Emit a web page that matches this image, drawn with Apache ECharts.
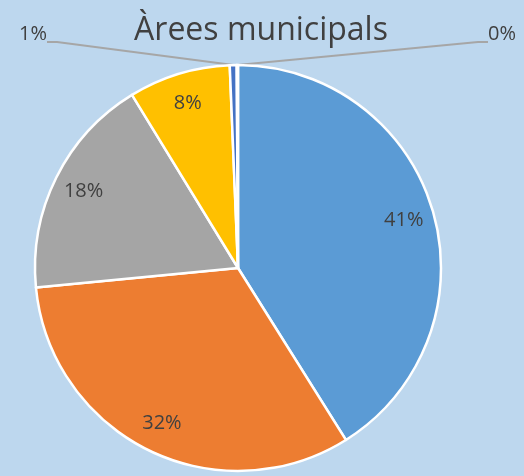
<!DOCTYPE html>
<html>
<head>
<meta charset="utf-8">
<script src="https://cdn.jsdelivr.net/npm/echarts@6/dist/echarts.min.js"></script>
<style>
  html, body { margin: 0; padding: 0; background: #BDD7EE; }
  #chart { width: 524px; height: 476px; }
</style>
</head>
<body>
<div id="chart"></div>
<script>
// slices clockwise from 12 o'clock
const categories = ["A", "B", "C", "D", "E", "F"];
const values = [41.1, 32.4, 17.8, 8.1, 0.55, 0.1];
const colors = ["#5B9BD5", "#ED7D31", "#A5A5A5", "#FFC000", "#4472C4", "#70AD47"];

const chart = echarts.init(document.getElementById("chart"));

const pieData = categories.map((c, i) => ({
  name: c,
  value: values[i],
  itemStyle: { color: colors[i] },
  labelLine: { show: i >= 4 },
}));

const pct = (p) => Math.round(p.percent) + "%";

chart.setOption({
  backgroundColor: "#BDD7EE",
  title: {
    text: "Àrees municipals",
    left: 256,
    top: 10,
    textAlign: "center",
    textStyle: {
      fontFamily: "Open Sans",
      fontSize: 32,
      fontWeight: "normal",
      color: "#404040",
    },
  },
  series: [
    {
      type: "pie",
      center: [238, 268],
      radius: 203,
      startAngle: 90,
      clockwise: true,
      avoidLabelOverlap: false,
      itemStyle: { borderColor: "#fff", borderWidth: 2.5 },
      label: {
        show: true,
        position: "outside",
        // blank second line so the leader line meets the label below the text
        formatter: (p) => (p.dataIndex >= 4 ? pct(p) + "\n " : ""),
        fontFamily: "Open Sans",
        fontSize: 20,
        lineHeight: 15,
        color: "#404040",
      },
      labelLine: {
        show: true,
        length: 10,
        length2: 10,
        lineStyle: { color: "#A6A6A6", width: 2 },
      },
      labelLayout: function (params) {
        if (params.dataIndex === 4) {
          return { x: 47, y: 42, align: "right", verticalAlign: "middle" };
        }
        if (params.dataIndex === 5) {
          return { x: 488, y: 42, align: "left", verticalAlign: "middle" };
        }
        return {};
      },
      emphasis: { disabled: true },
      data: pieData,
    },
    {
      // transparent ring that only carries the inside labels
      type: "pie",
      center: [238, 268],
      radius: [136, 203],
      startAngle: 90,
      silent: true,
      itemStyle: { color: "rgba(0,0,0,0)" },
      label: {
        show: true,
        position: "inside",
        formatter: (p) => (p.dataIndex < 4 ? pct(p) : ""),
        fontFamily: "Open Sans",
        fontSize: 20,
        color: "#404040",
      },
      labelLine: { show: false },
      emphasis: { disabled: true },
      data: categories.map((c, i) => ({ name: c, value: values[i] })),
    },
  ],
});
</script>
</body>
</html>
